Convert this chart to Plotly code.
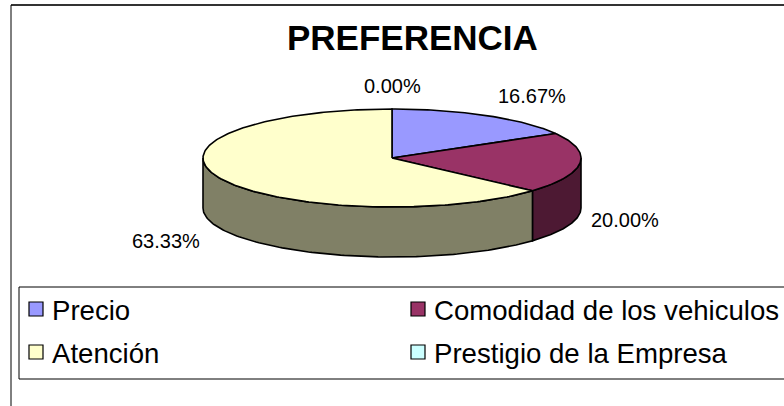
import numpy as np
import plotly.graph_objects as go

# ---------------- data ----------------
categories = ["Precio", "Comodidad de los vehiculos", "Atención", "Prestigio de la Empresa"]
counts = [5, 6, 19, 0]
colors = ["#9999FF", "#993366", "#FFFFCC", "#CCFFFF"]
side_colors = ["#4C4C80", "#4D1933", "#808066", "#668080"]
title_text = "PREFERENCIA"

# ---------------- geometry (layout) ----------------
W, H = 784, 406
CX, CY, RX, RY, DEPTH = 392, 158, 189, 49, 50
FONT = "Arial, Liberation Sans, sans-serif"

total = sum(counts)
fracs = [c / total for c in counts]
starts = np.cumsum([0] + fracs[:-1]) * 2 * np.pi
ends = np.cumsum(fracs) * 2 * np.pi


def pt(t, dy=0.0):
    t = np.asarray(t)
    return CX + RX * np.sin(t), CY - RY * np.cos(t) + dy


fig = go.Figure()

# side walls (front half only)
for i, (a0, a1) in enumerate(zip(starts, ends)):
    a, b = max(a0, np.pi / 2), min(a1, 3 * np.pi / 2)
    if a >= b:
        continue
    ts = np.linspace(a, b, 120)
    xt, yt = pt(ts)
    xb, yb = pt(ts[::-1], DEPTH)
    xs = np.concatenate([xt, xb, xt[:1]])
    ys = np.concatenate([yt, yb, yt[:1]])
    fig.add_trace(go.Scatter(x=xs, y=ys, mode="lines", fill="toself",
                             fillcolor=side_colors[i],
                             line=dict(color="black", width=1.6),
                             hoverinfo="skip", showlegend=False))

# top faces
for i, (a0, a1) in enumerate(zip(starts, ends)):
    if a1 - a0 <= 0:
        continue
    ts = np.linspace(a0, a1, max(int((a1 - a0) * 60), 10))
    xa, ya = pt(ts)
    xs = np.concatenate([[CX], xa, [CX]])
    ys = np.concatenate([[CY], ya, [CY]])
    fig.add_trace(go.Scatter(x=xs, y=ys, mode="lines", fill="toself",
                             fillcolor=colors[i],
                             line=dict(color="black", width=1.6),
                             hoverinfo="skip", showlegend=False,
                             name=categories[i]))

annotations = []
# data labels
for i, (a0, a1) in enumerate(zip(starts, ends)):
    m = (a0 + a1) / 2
    s, c = np.sin(m), np.cos(m)
    gap = 9 if s > 0 else 17
    x = CX + RX * s + (gap if s > 0.2 else (-gap if s < -0.2 else 0))
    y = CY - (RY + 23) * c + (54 if c < -0.05 else 0)
    if s > 0.2:
        xanchor = "left"
    elif s < -0.2:
        xanchor = "right"
    else:
        xanchor = "center"
    annotations.append(dict(x=x, y=y, xref="x", yref="y", showarrow=False,
                            text=f"{fracs[i] * 100:.2f}%", xanchor=xanchor,
                            yanchor="middle",
                            font=dict(family=FONT, size=20, color="black")))

# title
annotations.append(dict(x=412, y=37, xref="x", yref="y", showarrow=False,
                        text=f"<b>{title_text}</b>", xanchor="center", yanchor="middle",
                        font=dict(family=FONT, size=35, color="black")))

shapes = [
    dict(type="line", xref="x", yref="y", x0=11, x1=W + 5, y0=5, y1=5,
         line=dict(color="#333333", width=2)),
    dict(type="line", xref="x", yref="y", x0=11, x1=11, y0=5, y1=H + 5,
         line=dict(color="black", width=1)),
    dict(type="rect", xref="x", yref="y", x0=19, x1=W + 10, y0=287, y1=379,
         line=dict(color="black", width=1), fillcolor="rgba(0,0,0,0)"),
]

# legend (2 columns)
col_x = [29, 411]
row_y = [310, 353]
SQ = 14
for i, name in enumerate(categories):
    cx0 = col_x[i % 2]
    cy0 = row_y[i // 2]
    shapes.append(dict(type="rect", xref="x", yref="y", x0=cx0, x1=cx0 + SQ,
                       y0=cy0 - SQ / 2 - 1, y1=cy0 + SQ / 2 - 1,
                       line=dict(color="black", width=1.2), fillcolor=colors[i]))
    annotations.append(dict(x=cx0 + 21, y=cy0, xref="x", yref="y", showarrow=False,
                            text=name, xanchor="left", yanchor="middle",
                            font=dict(family=FONT, size=27.6, color="black")))

fig.update_layout(
    width=W, height=H,
    margin=dict(l=0, r=0, t=0, b=0),
    paper_bgcolor="white", plot_bgcolor="white",
    xaxis=dict(range=[0, W], visible=False, fixedrange=True),
    yaxis=dict(range=[H, 0], visible=False, fixedrange=True),
    shapes=shapes, annotations=annotations,
    showlegend=False,
)

fig.write_html("out.html", config={"displayModeBar": False},
               post_script="document.body.style.margin='0px';")
